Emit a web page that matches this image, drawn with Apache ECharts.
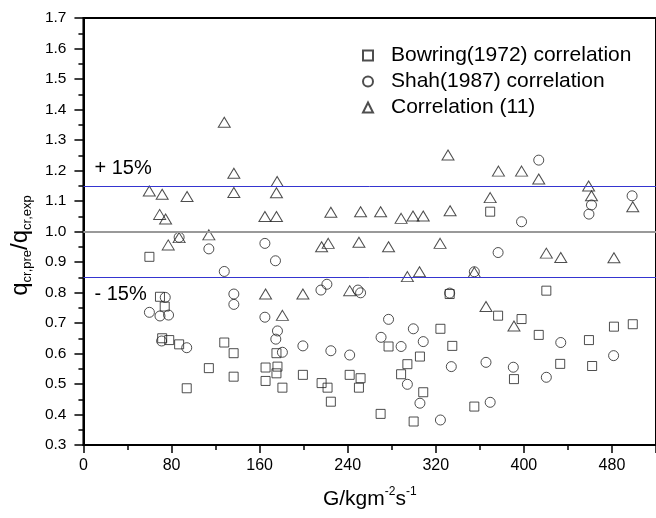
<!DOCTYPE html>
<html>
<head>
<meta charset="utf-8">
<script src="https://cdn.jsdelivr.net/npm/echarts@6/dist/echarts.min.js"></script>
<style>
  html, body { margin: 0; padding: 0; background: #fff; }
  #main { width: 656px; height: 518px; }
</style>
</head>
<body>
<div id="main"></div>
<script>
// series names
const seriesNames = ['Bowring(1972) correlation', 'Shah(1987) correlation', 'Correlation (11)'];

// [G, q_pre/q_exp]
const bowringData = [
  [59.9, 0.917], [69.5, 0.786], [73.8, 0.754], [71.5, 0.650], [77.9, 0.644], [86.9, 0.630],
  [93.8, 0.486], [113.9, 0.552], [127.9, 0.636], [136.4, 0.601], [136.4, 0.524], [165.4, 0.554],
  [165.4, 0.510], [176.2, 0.557], [175.3, 0.601], [175.3, 0.535], [180.7, 0.488], [199.3, 0.530],
  [216.3, 0.503], [221.7, 0.488], [224.7, 0.442], [241.8, 0.530], [251.7, 0.519], [250.2, 0.488],
  [269.9, 0.402], [277.1, 0.623], [294.2, 0.565], [288.5, 0.532], [305.6, 0.590], [308.6, 0.473],
  [299.9, 0.377], [324.2, 0.681], [335.0, 0.625], [332.6, 0.795], [369.4, 1.065], [420.4, 0.806],
  [376.6, 0.724], [397.9, 0.713], [413.5, 0.661], [459.1, 0.644], [481.8, 0.688], [498.9, 0.696],
  [433.0, 0.566], [462.0, 0.559], [391.0, 0.516], [355.0, 0.426]
];

const shahData = [
  [86.9, 0.981], [113.9, 0.943], [127.9, 0.869], [164.8, 0.961], [174.4, 0.904], [74.3, 0.784],
  [59.9, 0.735], [69.5, 0.723], [77.3, 0.726], [71.0, 0.641], [93.8, 0.619], [136.6, 0.795],
  [136.6, 0.761], [164.8, 0.719], [176.2, 0.674], [174.7, 0.647], [180.7, 0.604], [199.3, 0.625],
  [215.7, 0.808], [221.1, 0.827], [249.3, 0.808], [251.7, 0.799], [224.7, 0.609], [241.8, 0.595],
  [277.1, 0.712], [270.3, 0.653], [299.6, 0.681], [288.5, 0.623], [308.6, 0.639], [294.2, 0.499],
  [305.6, 0.437], [324.2, 0.382], [334.1, 0.557], [332.6, 0.798], [355.0, 0.868], [413.5, 1.234],
  [498.3, 1.117], [461.4, 1.087], [459.1, 1.057], [397.9, 1.032], [376.6, 0.931], [433.5, 0.636],
  [481.5, 0.593], [365.6, 0.571], [390.4, 0.555], [420.4, 0.522], [369.4, 0.440]
];

const corrData = [
  [127.9, 1.358], [59.8, 1.133], [71.5, 1.122], [94.1, 1.115], [136.6, 1.191], [136.6, 1.128],
  [69.2, 1.056], [74.6, 1.041], [77.0, 0.956], [86.9, 0.980], [113.9, 0.989], [164.8, 1.049],
  [175.3, 1.049], [175.9, 1.164], [175.3, 1.127], [224.7, 1.063], [251.7, 1.065], [269.9, 1.065],
  [288.5, 1.043], [299.3, 1.051], [308.6, 1.051], [331.1, 1.251], [333.0, 1.068], [216.3, 0.950],
  [222.3, 0.961], [250.2, 0.965], [277.1, 0.950], [323.9, 0.961], [376.9, 1.198], [397.9, 1.198],
  [413.5, 1.172], [369.4, 1.111], [458.8, 1.149], [461.4, 1.117], [498.9, 1.081], [420.4, 0.929],
  [433.5, 0.915], [481.8, 0.914], [355.0, 0.866], [165.4, 0.795], [199.3, 0.795], [180.7, 0.725],
  [241.8, 0.806], [294.2, 0.852], [305.2, 0.868], [365.6, 0.754], [391.0, 0.690]
];

// reference lines: +15%, 0, -15%
const refLines = [1.15, 1.0, 0.85];
const refLabels = ['+ 15%', '', '- 15%'];

const font = 'Liberation Sans, Arial, sans-serif';
const markerStyle = { color: 'rgba(0,0,0,0)', borderColor: '#222', borderWidth: 1 };

const chart = echarts.init(document.getElementById('main'));

chart.setOption({
  animation: false,
  textStyle: { fontFamily: font, color: '#000' },
  grid: {
    left: 80, right: -3, top: 18, bottom: 73,
    show: true, borderColor: '#000', borderWidth: 2
  },
  legend: {
    orient: 'vertical',
    left: 357, top: 40,
    itemWidth: 10, itemHeight: 10,
    itemGap: 5,
    textStyle: { fontSize: 21, color: '#000', fontFamily: font, padding: [0, 0, 0, 13], lineHeight: 21 },
    data: seriesNames
  },
  xAxis: {
    type: 'value',
    min: 0, max: 520, interval: 80,
    name: '{a|G/kgm}{s|-2}{a|s}{s|-1}',
    nameLocation: 'middle',
    nameGap: 41,
    nameTextStyle: {
      rich: {
        a: { fontSize: 21, fontFamily: font, color: '#000', lineHeight: 24, verticalAlign: 'bottom' },
        s: { fontSize: 12, fontFamily: font, color: '#000', lineHeight: 12, verticalAlign: 'top' }
      }
    },
    axisLine: { lineStyle: { color: '#000', width: 2 } },
    axisTick: { length: 8, lineStyle: { color: '#000', width: 1.5 } },
    minorTick: { show: true, splitNumber: 2, length: 5, lineStyle: { color: '#000', width: 1.5 } },
    axisLabel: { fontSize: 16, color: '#000', margin: 13, showMaxLabel: false },
    splitLine: { show: false }
  },
  yAxis: {
    type: 'value',
    min: 0.3, max: 1.7, interval: 0.1,
    name: '{q|q}{b|cr,pre}{q|/q}{b|cr,exp}',
    nameLocation: 'middle',
    nameGap: 46,
    nameTextStyle: {
      padding: [0, 28, 0, 0],
      rich: {
        q: { fontSize: 24, fontFamily: font, color: '#000', lineHeight: 26, verticalAlign: 'top' },
        b: { fontSize: 13, fontFamily: font, color: '#000', lineHeight: 13, verticalAlign: 'bottom' }
      }
    },
    axisLine: { lineStyle: { color: '#000', width: 2 } },
    axisTick: { length: 9, lineStyle: { color: '#000', width: 1.5 } },
    minorTick: { show: true, splitNumber: 2, length: 5, lineStyle: { color: '#000', width: 1.5 } },
    axisLabel: {
      fontSize: 15.5, color: '#000', margin: 17,
      formatter: function (v) { return v.toFixed(1); }
    },
    splitLine: { show: false }
  },
  series: [
    {
      name: seriesNames[0],
      type: 'scatter',
      symbol: 'rect',
      symbolSize: 9,
      itemStyle: markerStyle,
      data: bowringData,
      markLine: {
        silent: true,
        symbol: ['none', 'none'],
        data: refLines.map(function (v, i) {
          return {
            yAxis: v,
            lineStyle: i === 1
              ? { color: '#999', width: 2, type: 'solid' }
              : { color: '#3535d0', width: 1, type: 'solid' },
            label: {
              show: refLabels[i] !== '',
              formatter: refLabels[i],
              position: i === 0 ? 'insideStartTop' : 'insideStartBottom',
              distance: [11, 7],
              fontSize: 20, color: '#000', fontFamily: font
            }
          };
        })
      }
    },
    {
      name: seriesNames[1],
      type: 'scatter',
      symbol: 'circle',
      symbolSize: 10,
      itemStyle: markerStyle,
      data: shahData
    },
    {
      name: seriesNames[2],
      type: 'scatter',
      symbol: 'triangle',
      symbolSize: [12, 10],
      itemStyle: markerStyle,
      data: corrData
    }
  ]
});
</script>
</body>
</html>
